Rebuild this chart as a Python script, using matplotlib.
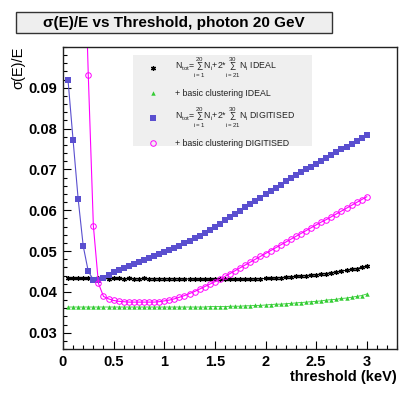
import matplotlib
matplotlib.use("Agg")
import matplotlib.pyplot as plt
from matplotlib.patches import Rectangle

plt.rcParams['font.family'] = ['Liberation Sans', 'DejaVu Sans']
plt.rcParams['mathtext.fontset'] = 'custom'
plt.rcParams['mathtext.rm'] = 'Liberation Sans'
plt.rcParams['mathtext.it'] = 'Liberation Sans'
plt.rcParams['mathtext.bf'] = 'Liberation Sans:bold'

# Data (threshold in keV)
threshold = [0.05, 0.10, 0.15, 0.20, 0.25, 0.30, 0.35, 0.40, 0.45, 0.50,
             0.55, 0.60, 0.65, 0.70, 0.75, 0.80, 0.85, 0.90, 0.95, 1.00,
             1.05, 1.10, 1.15, 1.20, 1.25, 1.30, 1.35, 1.40, 1.45, 1.50,
             1.55, 1.60, 1.65, 1.70, 1.75, 1.80, 1.85, 1.90, 1.95, 2.00,
             2.05, 2.10, 2.15, 2.20, 2.25, 2.30, 2.35, 2.40, 2.45, 2.50,
             2.55, 2.60, 2.65, 2.70, 2.75, 2.80, 2.85, 2.90, 2.95, 3.00]

ideal = [0.0433, 0.0433, 0.0433, 0.0433, 0.0433, 0.0432, 0.0433, 0.0433, 0.0432, 0.0433,
         0.0433, 0.0432, 0.0433, 0.0432, 0.0432, 0.0433, 0.0432, 0.0432, 0.0432, 0.0432,
         0.0432, 0.0432, 0.0432, 0.0431, 0.0432, 0.0431, 0.0431, 0.0431, 0.0431, 0.0431,
         0.0431, 0.0431, 0.0431, 0.0431, 0.0431, 0.0431, 0.0431, 0.0432, 0.0432, 0.0433,
         0.0433, 0.0434, 0.0435, 0.0436, 0.0437, 0.0438, 0.0439, 0.0440, 0.0441, 0.0442,
         0.0444, 0.0445, 0.0447, 0.0449, 0.0451, 0.0453, 0.0455, 0.0457, 0.0460, 0.0463]

ideal_clus = [0.0363, 0.0363, 0.0363, 0.0363, 0.0363, 0.0363, 0.0363, 0.0363, 0.0363, 0.0363,
              0.0363, 0.0363, 0.0363, 0.0363, 0.0363, 0.0363, 0.0363, 0.0363, 0.0363, 0.0363,
              0.0363, 0.0363, 0.0363, 0.0363, 0.0363, 0.0363, 0.0363, 0.0363, 0.0364, 0.0364,
              0.0364, 0.0364, 0.0365, 0.0365, 0.0365, 0.0366, 0.0366, 0.0367, 0.0367, 0.0368,
              0.0369, 0.0370, 0.0370, 0.0371, 0.0372, 0.0373, 0.0374, 0.0375, 0.0376, 0.0377,
              0.0378, 0.0380, 0.0381, 0.0382, 0.0384, 0.0385, 0.0387, 0.0389, 0.0391, 0.0395]

digit = [0.0918, 0.0771, 0.0627, 0.0512, 0.0450, 0.0430, 0.0429, 0.0435, 0.0442, 0.0449,
         0.0454, 0.0459, 0.0464, 0.0469, 0.0473, 0.0478, 0.0482, 0.0487, 0.0492, 0.0497,
         0.0502, 0.0508, 0.0513, 0.0519, 0.0525, 0.0531, 0.0538, 0.0545, 0.0552, 0.0559,
         0.0567, 0.0575, 0.0583, 0.0591, 0.0599, 0.0607, 0.0615, 0.0623, 0.0631, 0.0639,
         0.0647, 0.0655, 0.0663, 0.0671, 0.0679, 0.0686, 0.0693, 0.0700, 0.0707, 0.0714,
         0.0721, 0.0728, 0.0735, 0.0742, 0.0749, 0.0756, 0.0763, 0.0770, 0.0777, 0.0784]

digit_clus = [0.3000, 0.2500, 0.1900, 0.1350, 0.0930, 0.0562, 0.0421, 0.0389, 0.0383, 0.0379,
              0.0377, 0.0376, 0.0375, 0.0375, 0.0375, 0.0375, 0.0375, 0.0375, 0.0376, 0.0378,
              0.0380, 0.0383, 0.0387, 0.0391, 0.0396, 0.0401, 0.0407, 0.0413, 0.0419, 0.0425,
              0.0431, 0.0438, 0.0445, 0.0452, 0.0459, 0.0466, 0.0473, 0.0480, 0.0487, 0.0494,
              0.0501, 0.0508, 0.0515, 0.0522, 0.0529, 0.0536, 0.0543, 0.0550, 0.0557, 0.0564,
              0.0571, 0.0577, 0.0584, 0.0591, 0.0598, 0.0605, 0.0612, 0.0619, 0.0626, 0.0633]

x_ticks = [0, 0.5, 1, 1.5, 2, 2.5, 3]
x_tick_labels = ["0", "0.5", "1", "1.5", "2", "2.5", "3"]
y_ticks = [0.03, 0.04, 0.05, 0.06, 0.07, 0.08, 0.09]
y_tick_labels = ["0.03", "0.04", "0.05", "0.06", "0.07", "0.08", "0.09"]

sum_label = r"N$_{tot}$=$\sum_{i=1}^{20}$N$_i$+2*$\sum_{i=21}^{30}$N$_i$ "
labels = [sum_label + "IDEAL", "+ basic clustering IDEAL",
          sum_label + "DIGITISED", "+ basic clustering DIGITISED"]

c_black = "black"
c_green = "#33cc33"
c_blue = "#5a4fcf"
c_mag = "#ff00ff"

styles = [dict(color=c_black, marker=(6, 2, 0), ms=3.6, mew=0.9),
          dict(color=c_green, marker="^", ms=3.2, mew=0),
          dict(color=c_blue, marker="s", ms=3.8, mew=0),
          dict(color=c_mag, marker="o", ms=4.0, mfc="none", mec=c_mag, mew=0.7)]

fig = plt.figure(figsize=(4.09, 3.94), dpi=100)
ax = fig.add_axes([0.154, 0.114, 0.817, 0.767])

ax.plot(threshold, ideal, lw=0.8, **styles[0])
ax.plot(threshold, ideal_clus, lw=0.6, **styles[1])
ax.plot(threshold, digit, lw=0.8, **styles[2])
ax.plot(threshold, digit_clus, lw=0.8, **styles[3])

ax.set_xlim(0, 3.3)
ax.set_ylim(0.026, 0.1)
ax.set_xticks(x_ticks)
ax.set_xticklabels(x_tick_labels)
ax.set_yticks(y_ticks)
ax.set_yticklabels(y_tick_labels)
ax.set_xticks([i * 0.1 for i in range(34)], minor=True)
ax.set_yticks([0.026 + i * 0.002 for i in range(38)], minor=True)
ax.tick_params(which="both", direction="in", top=False, right=False,
               labelsize=10.5, pad=4)
ax.tick_params(which="major", length=5.5, width=0.8)
ax.tick_params(which="minor", length=2.8, width=0.8)
for lab in ax.get_xticklabels() + ax.get_yticklabels():
    lab.set_fontweight("bold")
for s in ax.spines.values():
    s.set_linewidth(1.0)
    s.set_color("#222222")

ax.set_xlabel("threshold (keV)", fontsize=10.5, fontweight="bold", loc="right", labelpad=1)
ax.set_ylabel("σ(E)/E", fontsize=10.5, loc="top", labelpad=2)

# legend box
ax.add_patch(Rectangle((0.2096, 0.6715), 0.536, 0.301, transform=ax.transAxes,
                       facecolor="#efefef", edgecolor="none", zorder=5))
leg_y = [0.9295, 0.847, 0.764, 0.6816]
for yy, lab, st in zip(leg_y, labels, styles):
    ax.plot([0.2695], [yy], transform=ax.transAxes, ls="none", zorder=6, **st)
    ax.text(0.335, yy, lab, transform=ax.transAxes, fontsize=6.3,
            va="center", ha="left", zorder=6, color="#222222")

# title box
fig.patches.append(Rectangle((16 / 409, 1 - 33 / 394), 316 / 409, 21 / 394,
                             transform=fig.transFigure, facecolor="#eeeeee",
                             edgecolor="#333333", lw=1.0))
fig.text(174 / 409, 1 - 22.5 / 394, "σ(E)/E vs Threshold, photon 20 GeV",
         fontsize=11, fontweight="bold", ha="center", va="center")

fig.savefig("out.png", dpi=100)
